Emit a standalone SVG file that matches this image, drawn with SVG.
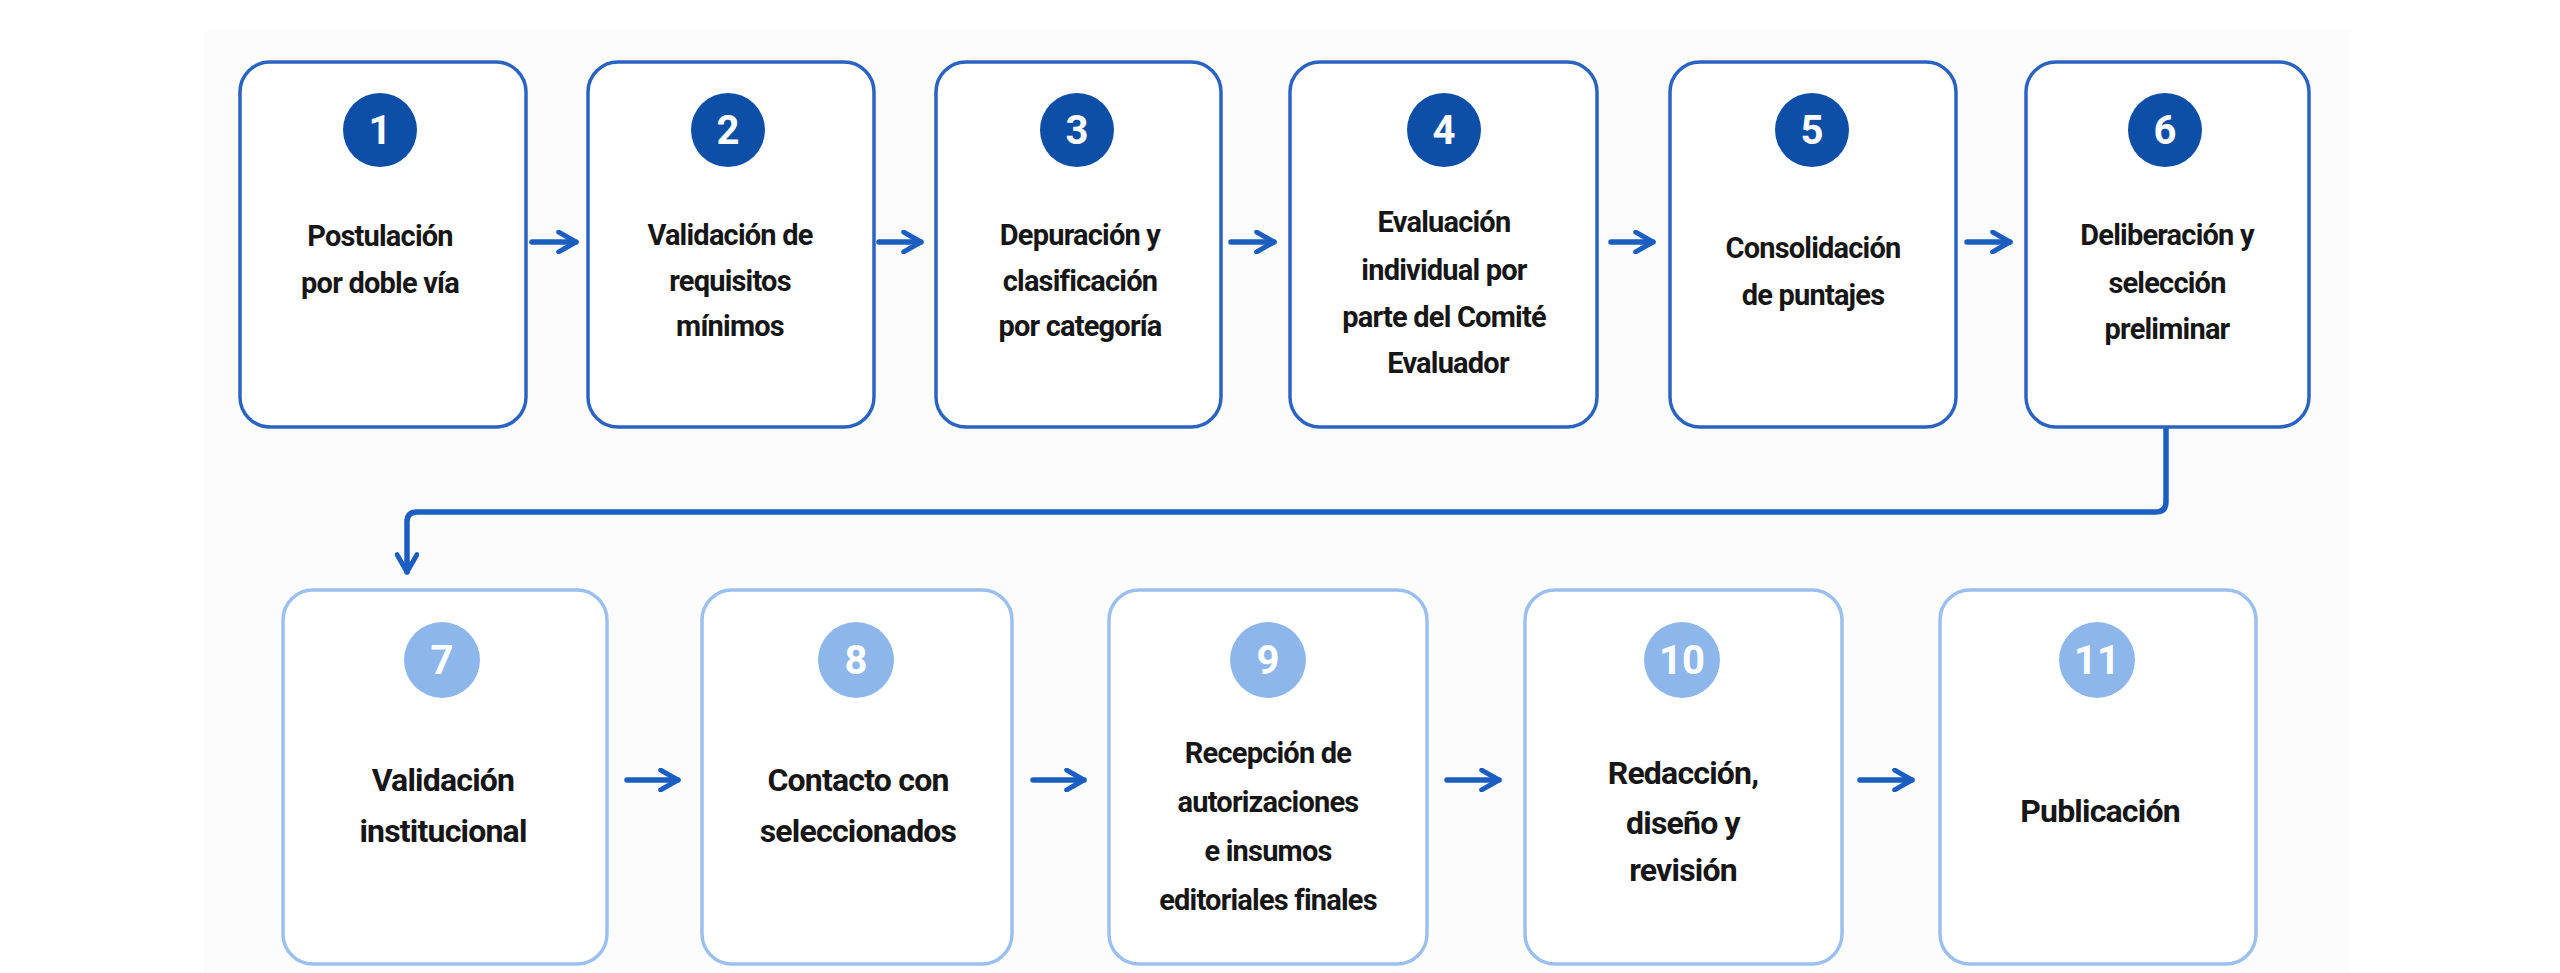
<svg xmlns="http://www.w3.org/2000/svg" width="2560" height="973" viewBox="0 0 2560 973">
<defs>
<style>
.bx1{fill:#fff;stroke:#2a64c0;stroke-width:3.5}
.bx2{fill:#fff;stroke:#9cc0ee;stroke-width:3.5}
.c1{fill:#0d4ea6}
.c2{fill:#8db7ea}
.n{font-family:Roboto,"Liberation Sans",sans-serif;font-weight:700;font-size:40px;fill:#fff;text-anchor:middle}
.t{font-family:Roboto,"Liberation Sans",sans-serif;font-weight:700;font-size:29px;fill:#161616;text-anchor:middle;letter-spacing:-0.8px}
.t2{font-size:32px}
.ar{fill:none;stroke:#1b5ec0;stroke-width:5.5;stroke-linecap:round;stroke-linejoin:round}
</style>
<marker id="ah" viewBox="0 0 10 10" refX="8" refY="5" markerWidth="4.5" markerHeight="4.5" orient="auto" markerUnits="strokeWidth">
<path d="M1,1 L8,5 L1,9" fill="none" stroke="#1b5ec0" stroke-width="2" stroke-linecap="round" stroke-linejoin="round"/>
</marker>
</defs>
<rect width="2560" height="973" fill="#fff"/>
<rect x="204" y="31" width="2146" height="942" fill="#fcfcfd"/>
<g id="connectors">
<path class="ar" d="M532,242 H576" marker-end="url(#ah)"/>
<path class="ar" d="M879,242 H921" marker-end="url(#ah)"/>
<path class="ar" d="M1231,242 H1274" marker-end="url(#ah)"/>
<path class="ar" d="M1611,242 H1653" marker-end="url(#ah)"/>
<path class="ar" d="M1967,242 H2010" marker-end="url(#ah)"/>
<path class="ar" d="M2166,429 V502 Q2166,512 2156,512 H417 Q407,512 407,522 V572" marker-end="url(#ah)"/>
<path class="ar" d="M627,780 H678" marker-end="url(#ah)"/>
<path class="ar" d="M1033,780 H1084" marker-end="url(#ah)"/>
<path class="ar" d="M1447,780 H1499" marker-end="url(#ah)"/>
<path class="ar" d="M1860,780 H1912" marker-end="url(#ah)"/>
</g>
<g id="n1"><rect class="bx1" x="240" y="62" width="286" height="365" rx="30"/><circle class="c1" cx="380" cy="130" r="37"/><text class="n" x="380" y="144">1</text><text class="t" x="380" y="246">Postulación</text><text class="t" x="380" y="293">por doble vía</text></g>
<g id="n2"><rect class="bx1" x="588" y="62" width="286" height="365" rx="30"/><circle class="c1" cx="728" cy="130" r="37"/><text class="n" x="728" y="144">2</text><text class="t" x="730" y="245">Validación de</text><text class="t" x="730" y="291">requisitos</text><text class="t" x="730" y="336">mínimos</text></g>
<g id="n3"><rect class="bx1" x="936" y="62" width="285" height="365" rx="30"/><circle class="c1" cx="1077" cy="130" r="37"/><text class="n" x="1077" y="144">3</text><text class="t" x="1080" y="245">Depuración y</text><text class="t" x="1080" y="291">clasificación</text><text class="t" x="1080" y="336">por categoría</text></g>
<g id="n4"><rect class="bx1" x="1290" y="62" width="307" height="365" rx="30"/><circle class="c1" cx="1444" cy="130" r="37"/><text class="n" x="1444" y="144">4</text><text class="t" x="1444" y="232">Evaluación</text><text class="t" x="1444" y="280">individual por</text><text class="t" x="1444" y="327">parte del Comité</text><text class="t" x="1448" y="373">Evaluador</text></g>
<g id="n5"><rect class="bx1" x="1670" y="62" width="286" height="365" rx="30"/><circle class="c1" cx="1812" cy="130" r="37"/><text class="n" x="1812" y="144">5</text><text class="t" x="1813" y="258">Consolidación</text><text class="t" x="1813" y="305">de puntajes</text></g>
<g id="n6"><rect class="bx1" x="2026" y="62" width="283" height="365" rx="30"/><circle class="c1" cx="2165" cy="130" r="37"/><text class="n" x="2165" y="144">6</text><text class="t" x="2167" y="245">Deliberación y</text><text class="t" x="2167" y="293">selección</text><text class="t" x="2167" y="339">preliminar</text></g>
<g id="n7"><rect class="bx2" x="283" y="590" width="324" height="374" rx="30"/><circle class="c2" cx="442" cy="660" r="38"/><text class="n" x="442" y="674">7</text><text class="t t2" x="443" y="791">Validación</text><text class="t t2" x="443" y="842">institucional</text></g>
<g id="n8"><rect class="bx2" x="702" y="590" width="310" height="374" rx="30"/><circle class="c2" cx="856" cy="660" r="38"/><text class="n" x="856" y="674">8</text><text class="t t2" x="858" y="791">Contacto con</text><text class="t t2" x="858" y="842">seleccionados</text></g>
<g id="n9"><rect class="bx2" x="1109" y="590" width="318" height="374" rx="30"/><circle class="c2" cx="1268" cy="660" r="38"/><text class="n" x="1268" y="674">9</text><text class="t" x="1268" y="763">Recepción de</text><text class="t" x="1268" y="812">autorizaciones</text><text class="t" x="1268" y="861">e insumos</text><text class="t" x="1268" y="910">editoriales finales</text></g>
<g id="n10"><rect class="bx2" x="1525" y="590" width="317" height="374" rx="30"/><circle class="c2" cx="1682" cy="660" r="38"/><text class="n" x="1682" y="674">10</text><text class="t t2" x="1683" y="784">Redacción,</text><text class="t t2" x="1683" y="834">diseño y</text><text class="t t2" x="1683" y="881">revisión</text></g>
<g id="n11"><rect class="bx2" x="1940" y="590" width="316" height="374" rx="30"/><circle class="c2" cx="2097" cy="660" r="38"/><text class="n" x="2097" y="674">11</text><text class="t t2" x="2100" y="822">Publicación</text></g>
</svg>
